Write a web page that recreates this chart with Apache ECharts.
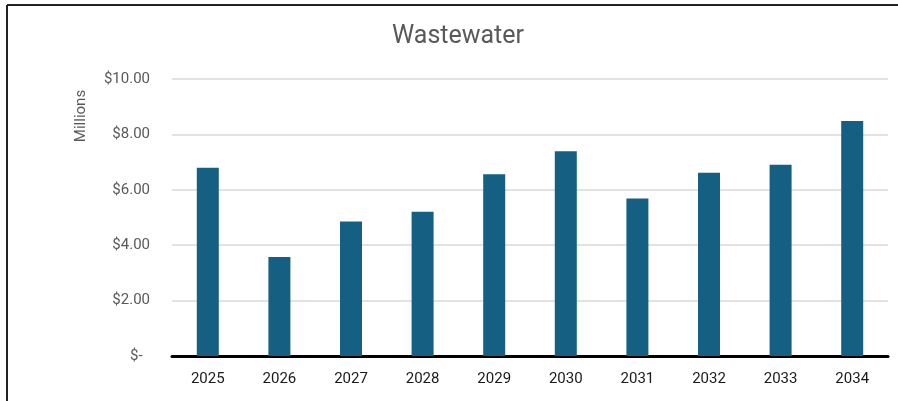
<!DOCTYPE html>
<html>
<head>
<meta charset="utf-8">
<script src="https://cdn.jsdelivr.net/npm/echarts@6/dist/echarts.min.js"></script>
<style>
html,body{margin:0;padding:0;background:#fff;}
#c{width:898px;height:401px;}
</style>
</head>
<body>
<div id="c"></div>
<script>
const title = 'Wastewater';
const years = ['2025','2026','2027','2028','2029','2030','2031','2032','2033','2034'];
const values = [6.80, 3.57, 4.86, 5.21, 6.56, 7.39, 5.69, 6.62, 6.90, 8.48];
const yTicks = [0, 2, 4, 6, 8, 10];

const chart = echarts.init(document.getElementById('c'), null, {renderer:'canvas'});
chart.setOption({
  animation: false,
  backgroundColor: '#fff',
  title: {
    text: title, left: 392, top: 24, padding: 0,
    textStyle: {fontFamily: 'Roboto', fontSize: 25, fontWeight: 'normal', color: '#595959'}
  },
  graphic: [
    {type:'line', shape:{x1:7, y1:5, x2:898, y2:5}, style:{stroke:'#222', lineWidth:2}},
    {type:'line', shape:{x1:7, y1:5, x2:7, y2:401}, style:{stroke:'#222', lineWidth:2}},
    {type:'text', x:81, y:116, rotation:Math.PI/2,
     style:{text:'Millions', fontFamily:'Roboto', fontSize:15, fill:'#595959', textAlign:'center', textVerticalAlign:'middle'}}
  ],
  grid: {left: 172, right: 10, top: 79, bottom: 45, containLabel: false},
  xAxis: {
    type: 'category', data: years,
    axisLine: {show: true, lineStyle: {color: '#000', width: 3}},
    axisTick: {show: false},
    axisLabel: {color: '#1a1a1a', fontFamily: 'Roboto', fontSize: 15, margin: 16}
  },
  yAxis: {
    type: 'value', min: yTicks[0], max: yTicks[yTicks.length-1], interval: 2,
    axisLine: {show: false}, axisTick: {show: false},
    splitLine: {lineStyle: {color: '#d9d9d9', width: 1.5}},
    axisLabel: {
      color: '#595959', fontFamily: 'Roboto', fontSize: 15, margin: 22,
      formatter: v => v === 0 ? '$-  ' : '$' + v.toFixed(2)
    }
  },
  series: [{
    type: 'bar', data: values, barWidth: 22,
    itemStyle: {color: '#156082'}
  }]
});
</script>
</body>
</html>
